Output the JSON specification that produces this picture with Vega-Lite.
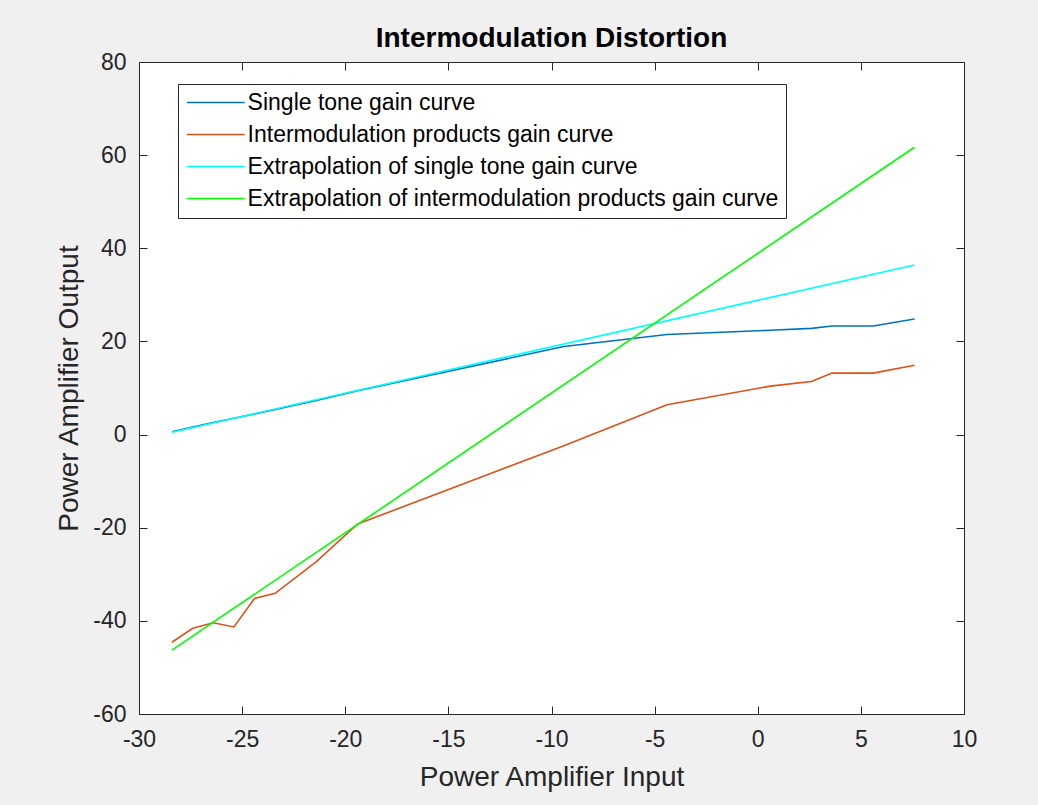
{
  "$schema": "https://vega.github.io/schema/vega-lite/v6.json",
  "width": 825,
  "height": 652,
  "autosize": {"type": "none"},
  "padding": {"left": 139, "top": 62, "right": 74, "bottom": 91},
  "background": "#f0f0f0",
  "config": {
    "font": "Liberation Sans",
    "view": {"fill": "white", "stroke": "#262626", "strokeWidth": 1},
    "axis": {
      "grid": false,
      "domain": false,
      "offset": -8,
      "tickColor": "#262626",
      "tickSize": 8,
      "labelColor": "#262626",
      "titleColor": "#262626",
      "labelFontSize": 23,
      "titleFontSize": 28,
      "titleFontWeight": "normal",
      "labelExpr": "toString(datum.value)"
    }
  },
  "title": {
    "text": "Intermodulation Distortion",
    "fontSize": 28,
    "fontWeight": "bold",
    "color": "#000000",
    "anchor": "middle",
    "offset": -2
  },
  "data": {
    "values": [
      {"series": "Single tone gain curve", "x": -28.4, "y": 0.6},
      {"series": "Single tone gain curve", "x": -27.4, "y": 1.6},
      {"series": "Single tone gain curve", "x": -26.4, "y": 2.6},
      {"series": "Single tone gain curve", "x": -25.4, "y": 3.5},
      {"series": "Single tone gain curve", "x": -24.4, "y": 4.4},
      {"series": "Single tone gain curve", "x": -23.4, "y": 5.4},
      {"series": "Single tone gain curve", "x": -21.4, "y": 7.3},
      {"series": "Single tone gain curve", "x": -19.4, "y": 9.4},
      {"series": "Single tone gain curve", "x": -9.4, "y": 18.9},
      {"series": "Single tone gain curve", "x": -4.4, "y": 21.5},
      {"series": "Single tone gain curve", "x": 0.6, "y": 22.4},
      {"series": "Single tone gain curve", "x": 2.6, "y": 22.8},
      {"series": "Single tone gain curve", "x": 3.6, "y": 23.3},
      {"series": "Single tone gain curve", "x": 5.6, "y": 23.3},
      {"series": "Single tone gain curve", "x": 7.6, "y": 24.8},
      {"series": "Intermodulation products gain curve", "x": -28.4, "y": -44.6},
      {"series": "Intermodulation products gain curve", "x": -27.4, "y": -41.6},
      {"series": "Intermodulation products gain curve", "x": -26.4, "y": -40.4},
      {"series": "Intermodulation products gain curve", "x": -25.4, "y": -41.3},
      {"series": "Intermodulation products gain curve", "x": -24.4, "y": -35.2},
      {"series": "Intermodulation products gain curve", "x": -23.4, "y": -34.1},
      {"series": "Intermodulation products gain curve", "x": -21.4, "y": -27.3},
      {"series": "Intermodulation products gain curve", "x": -19.4, "y": -19.2},
      {"series": "Intermodulation products gain curve", "x": -9.4, "y": -2.4},
      {"series": "Intermodulation products gain curve", "x": -4.4, "y": 6.4},
      {"series": "Intermodulation products gain curve", "x": 0.6, "y": 10.4},
      {"series": "Intermodulation products gain curve", "x": 2.6, "y": 11.4},
      {"series": "Intermodulation products gain curve", "x": 3.6, "y": 13.2},
      {"series": "Intermodulation products gain curve", "x": 5.6, "y": 13.2},
      {"series": "Intermodulation products gain curve", "x": 7.6, "y": 14.9},
      {"series": "Extrapolation of single tone gain curve", "x": -28.4, "y": 0.5},
      {"series": "Extrapolation of single tone gain curve", "x": 7.6, "y": 36.4},
      {"series": "Extrapolation of intermodulation products gain curve", "x": -28.4, "y": -46.3},
      {"series": "Extrapolation of intermodulation products gain curve", "x": 7.6, "y": 61.7}
    ]
  },
  "layer": [
    {
      "mark": {"type": "line", "strokeWidth": 1.6},
      "encoding": {
        "x": {
          "field": "x", "type": "quantitative",
          "scale": {"domain": [-30, 10], "nice": false, "zero": false},
          "axis": {"title": "Power Amplifier Input", "values": [-30, -25, -20, -15, -10, -5, 0, 5, 10], "labelPadding": 14, "titlePadding": 12, "labelFlush": false}
        },
        "y": {
          "field": "y", "type": "quantitative",
          "scale": {"domain": [-60, 80], "nice": false, "zero": false},
          "axis": {"title": "Power Amplifier Output", "values": [-60, -40, -20, 0, 20, 40, 60, 80], "labelPadding": 13, "titlePadding": 9, "labelFlush": false}
        },
        "color": {
          "field": "series", "type": "nominal",
          "scale": {
            "domain": ["Single tone gain curve", "Intermodulation products gain curve", "Extrapolation of single tone gain curve", "Extrapolation of intermodulation products gain curve"],
            "range": ["#0072BD", "#D95319", "#00FFFF", "#00FF00"]
          },
          "legend": {
            "orient": "none", "legendX": 39, "legendY": 22, "title": null,
            "symbolType": "M-1,0H5", "symbolSize": 372, "symbolStrokeWidth": 1.6,
            "labelFontSize": 23, "labelColor": "#000000", "labelLimit": 1000, "labelOffset": 39.6,
            "fillColor": "white", "strokeColor": "#262626", "padding": 7, "rowPadding": 8
          }
        },
        "order": {"field": "x", "type": "quantitative"}
      }
    },
    {
      "mark": {"type": "line", "strokeOpacity": 0},
      "encoding": {
        "x": {
          "field": "x", "type": "quantitative",
          "scale": {"domain": [-30, 10], "nice": false, "zero": false},
          "axis": {"orient": "top", "title": null, "labels": false, "values": [-30, -25, -20, -15, -10, -5, 0, 5, 10]}
        },
        "y": {
          "field": "y", "type": "quantitative",
          "scale": {"domain": [-60, 80], "nice": false, "zero": false},
          "axis": {"orient": "right", "title": null, "labels": false, "values": [-60, -40, -20, 0, 20, 40, 60, 80]}
        },
        "detail": {"field": "series"}
      }
    }
  ],
  "resolve": {"axis": {"x": "independent", "y": "independent"}}
}
